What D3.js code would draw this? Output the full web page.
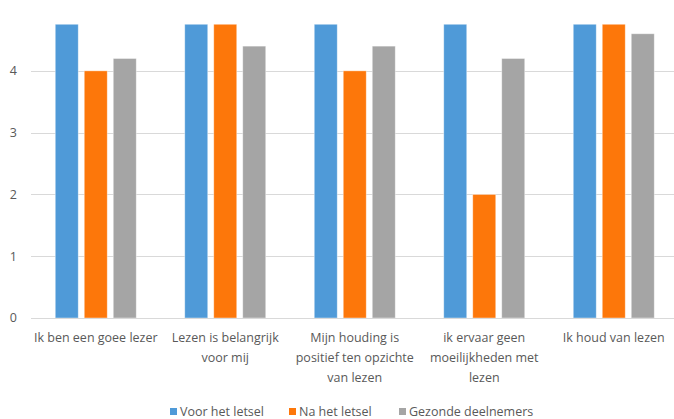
<!DOCTYPE html>
<html><head><meta charset="utf-8">
<script src="https://cdn.jsdelivr.net/npm/d3@7"></script>
<style>body{margin:0;background:#fff}svg{display:block}</style>
</head><body><svg id="c" width="674" height="419"></svg>
<script>
const categories = [
  ["Ik ben een goee lezer"],
  ["Lezen is belangrijk", "voor mij"],
  ["Mijn houding is", "positief ten opzichte", "van lezen"],
  ["ik ervaar geen", "moeilijkheden met", "lezen"],
  ["Ik houd van lezen"]
];
const seriesNames = ["Voor het letsel", "Na het letsel", "Gezonde deelnemers"];
const voor = [5, 5, 5, 5, 5];
const na = [4, 5, 4, 2, 5];
const gezond = [4.2, 4.4, 4.4, 4.2, 4.6];
const yTicks = [0, 1, 2, 3, 4];
const colors = ["#4f9ad8", "#fd770a", "#a5a5a5"];

const series = [voor, na, gezond];
const svg = d3.select("#c");
const font = "'Open Sans', sans-serif";
const textColor = "#595959";

const x = d3.scaleBand().domain(d3.range(categories.length)).range([31, 678.5]);
const y = d3.scaleLinear().domain([0, 4.75]).range([318, 24.5]);
const barW = 23, barStep = 29;

svg.append("defs").append("clipPath").attr("id", "clip")
  .append("rect").attr("x", 0).attr("y", y(4.75)).attr("width", 674).attr("height", y(0) - y(4.75));

// gridlines
svg.append("g").selectAll("line").data(yTicks).join("line")
  .attr("x1", 31).attr("x2", 674)
  .attr("y1", d => Math.round(y(d)) + 0.5).attr("y2", d => Math.round(y(d)) + 0.5)
  .attr("stroke", "#d9d9d9").attr("stroke-width", 1.2);

// y labels
svg.append("g").selectAll("text").data(yTicks).join("text")
  .attr("x", 17).attr("y", d => y(d)).attr("dy", "0.35em")
  .attr("text-anchor", "end").attr("font-family", font).attr("font-size", 12.5)
  .attr("fill", textColor).text(d => d);

// bars
const bars = svg.append("g").attr("clip-path", "url(#clip)");
series.forEach((s, si) => {
  bars.selectAll(null).data(s).join("rect")
    .attr("x", (d, i) => x(i) + x.bandwidth() / 2 - barW / 2 + (si - 1) * barStep)
    .attr("y", d => y(d))
    .attr("width", barW)
    .attr("height", d => y(0) - y(d))
    .attr("fill", colors[si])
    .attr("stroke", "#fff").attr("stroke-opacity", 0.5).attr("stroke-width", 0.8);
});

// category labels
const cl = svg.append("g");
categories.forEach((lines, i) => {
  const t = cl.append("text").attr("x", x(i) + x.bandwidth() / 2).attr("y", 342)
    .attr("text-anchor", "middle").attr("font-family", font).attr("font-size", 12.5)
    .attr("fill", textColor);
  lines.forEach((l, k) => t.append("tspan").attr("x", x(i) + x.bandwidth() / 2).attr("dy", k === 0 ? 0 : 20).text(l));
});

// legend
const legendX = [170, 289, 399];
const lg = svg.append("g");
seriesNames.forEach((n, i) => {
  lg.append("rect").attr("x", legendX[i]).attr("y", 408).attr("width", 7).attr("height", 7).attr("fill", colors[i]);
  lg.append("text").attr("x", legendX[i] + 10).attr("y", 415.5).attr("font-family", font).attr("font-size", 12.5)
    .attr("fill", textColor).text(n);
});
</script></body></html>
